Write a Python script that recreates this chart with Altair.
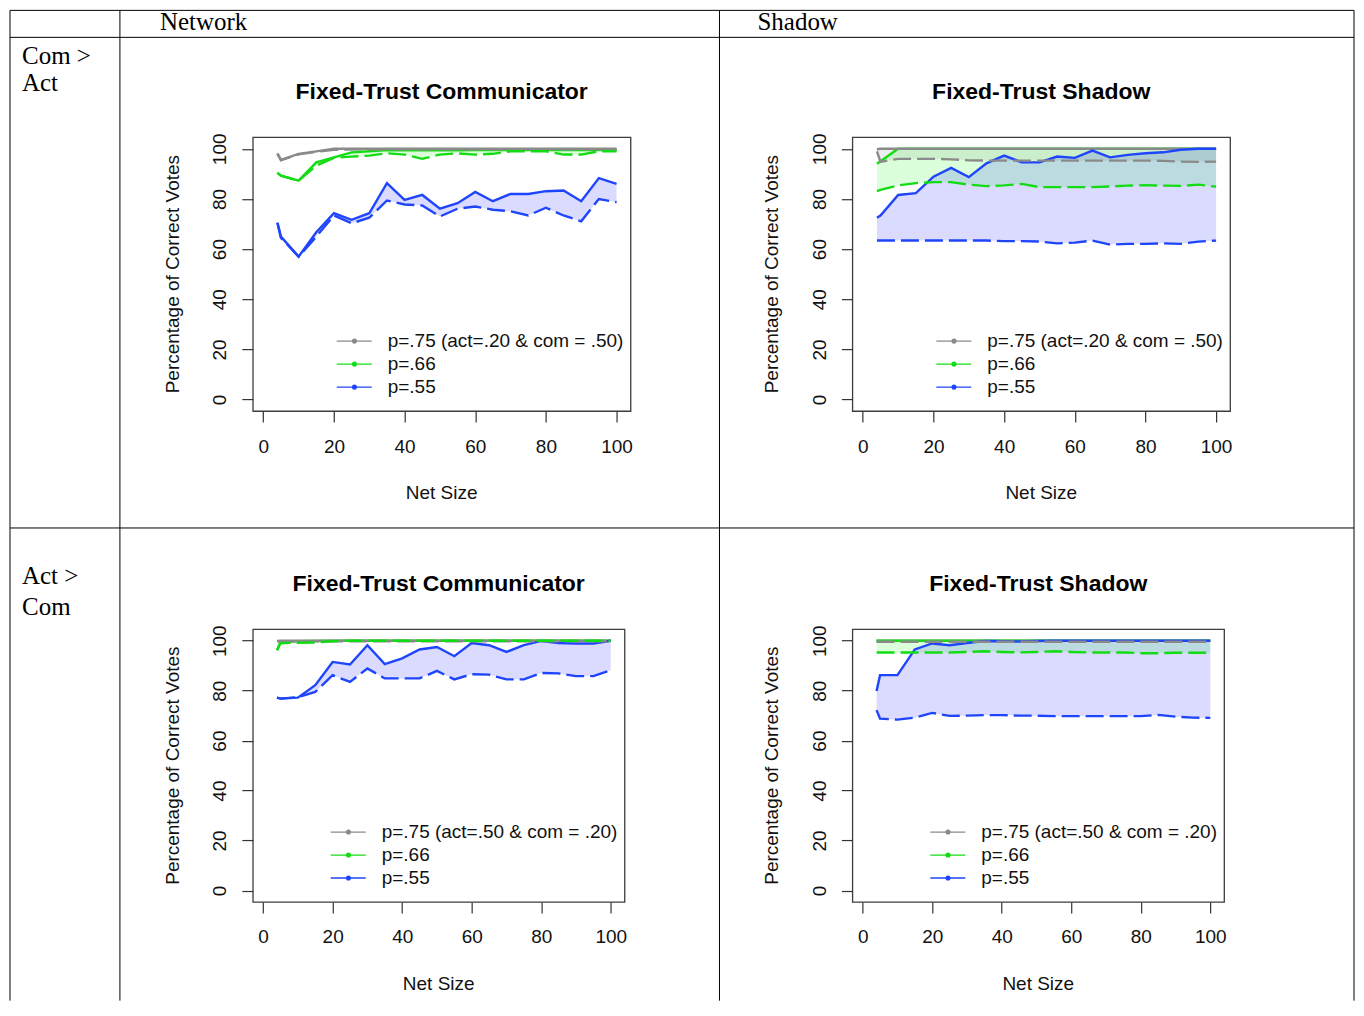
import altair as alt
import pandas as pd

# ---------------- data ----------------
NET_SIZE = [4, 5, 10, 15, 20, 25, 30, 35, 40, 45, 50, 55, 60, 65, 70, 75, 80, 85, 90, 95, 100]
X_TICKS = [0, 20, 40, 60, 80, 100]
Y_TICKS = [0, 20, 40, 60, 80, 100]

SERIES = ["gray", "green", "blue"]
LINE_COLORS = {"gray": "#8a8a8a", "green": "#14dc14", "blue": "#1f45fc"}
FILL_COLORS = ["#808080", "#00ff00", "#0000ff"]

# Panel 1: Com > Act, Network
p1_gray_solid = [98.2, 95.6, 98.0, 99.0, 100, 100, 100, 100, 100, 100, 100, 100, 100, 100, 100, 100, 100, 100, 100, 100, 100]
p1_gray_dashed = [98.0, 95.4, 97.8, 98.8, 99.6, 99.7, 99.8, 99.8, 99.8, 99.8, 99.8, 99.8, 99.8, 99.8, 99.8, 99.8, 99.8, 99.8, 99.8, 99.8, 99.8]
p1_green_solid = [90.4, 89.3, 87.3, 94.6, 96.6, 98.6, 99.0, 99.5, 99.4, 99.4, 99.5, 99.4, 99.5, 99.5, 99.5, 99.5, 99.5, 99.5, 99.5, 99.5, 99.5]
p1_green_dashed = [90.4, 89.3, 87.3, 93.3, 96.4, 96.9, 97.3, 98.2, 97.7, 96.0, 97.7, 98.2, 97.7, 98.0, 99.0, 99.0, 99.0, 97.7, 97.7, 99.0, 99.0]
p1_blue_solid = [70.5, 65.0, 57.0, 66.7, 74.3, 71.7, 74.3, 86.3, 79.6, 81.6, 76.1, 78.3, 82.8, 79.1, 82.0, 82.0, 83.1, 83.4, 79.1, 88.3, 86.0]
p1_blue_dashed = [70.5, 64.5, 57.0, 65.0, 73.4, 70.3, 72.5, 79.4, 77.8, 77.4, 73.0, 76.1, 77.0, 75.7, 75.1, 73.4, 76.5, 73.4, 71.1, 80.0, 78.7]

# Panel 2: Com > Act, Shadow
p2_gray_solid = [99.8, 100, 100, 100, 100, 100, 100, 100, 100, 100, 100, 100, 100, 100, 100, 100, 100, 100, 100, 100, 100]
p2_gray_dashed = [99.0, 94.8, 96.0, 96.0, 96.0, 95.8, 95.4, 95.3, 95.3, 95.3, 95.3, 95.3, 95.3, 95.3, 95.3, 95.3, 95.3, 95.2, 94.9, 94.8, 94.9]
p2_green_solid = [94.0, 95.0, 100, 100, 100, 100, 100, 100, 100, 100, 100, 100, 100, 100, 100, 100, 100, 100, 100, 100, 100]
p2_green_dashed = [83.1, 83.6, 85.4, 86.3, 86.7, 86.7, 85.7, 85.1, 85.4, 86.0, 84.7, 84.7, 84.7, 84.7, 85.0, 85.3, 85.5, 85.3, 85.2, 85.7, 84.9]
p2_blue_solid = [72.5, 73.4, 81.6, 82.3, 88.9, 92.4, 88.7, 94.2, 97.3, 94.6, 94.6, 96.9, 96.4, 99.3, 96.6, 97.6, 98.2, 98.6, 99.6, 100.0, 100.0]
p2_blue_dashed = [63.4, 63.4, 63.4, 63.4, 63.4, 63.4, 63.4, 63.4, 63.2, 63.2, 63.0, 62.3, 62.6, 63.4, 61.8, 62.1, 62.1, 62.3, 62.1, 63.0, 63.4]

# Panel 3: Act > Com, Network
p3_gray_solid = [99.9, 100, 100, 100, 100, 100, 100, 100, 100, 100, 100, 100, 100, 100, 100, 100, 100, 100, 100, 100, 100]
p3_gray_dashed = [99.8, 99.8, 99.8, 99.8, 99.8, 99.8, 99.8, 99.8, 99.8, 99.8, 99.8, 99.8, 99.8, 99.8, 99.8, 99.8, 99.8, 99.8, 99.8, 99.8, 99.8]
p3_green_solid = [96.2, 99.5, 99.8, 99.9, 100, 100, 100, 100, 100, 100, 100, 100, 100, 100, 100, 100, 100, 100, 100, 100, 100]
p3_green_dashed = [96.2, 99.0, 99.2, 99.3, 99.8, 100, 100, 100, 100, 100, 100, 100, 100, 100, 100, 100, 100, 100, 100, 100, 100]
p3_blue_solid = [77.2, 76.8, 77.2, 82.2, 91.5, 90.5, 98.2, 90.6, 92.9, 96.5, 97.5, 93.8, 99.1, 98.2, 95.5, 98.2, 99.9, 99.1, 98.9, 98.9, 100.0]
p3_blue_dashed = [77.2, 76.8, 77.4, 79.5, 86.2, 83.5, 88.9, 84.9, 84.9, 84.9, 87.9, 84.5, 86.6, 86.4, 84.5, 84.5, 87.1, 86.9, 85.8, 85.8, 88.2]

# Panel 4: Act > Com, Shadow
p4_gray_solid = [100, 100, 100, 100, 100, 100, 100, 100, 100, 100, 100, 100, 100, 100, 100, 100, 100, 100, 100, 100, 100]
p4_gray_dashed = [99.6, 99.6, 99.6, 99.6, 99.6, 99.6, 99.6, 99.6, 99.6, 99.6, 99.6, 99.6, 99.6, 99.6, 99.6, 99.6, 99.6, 99.6, 99.6, 99.6, 99.6]
p4_green_solid = [100, 100, 100, 100, 100, 100, 100, 100, 100, 100, 100, 100, 100, 100, 100, 100, 100, 100, 100, 100, 100]
p4_green_dashed = [95.3, 95.3, 95.3, 95.3, 95.3, 95.3, 95.5, 95.8, 95.5, 95.3, 95.5, 95.8, 95.5, 95.3, 95.3, 95.3, 95.0, 95.0, 95.2, 95.2, 95.2]
p4_blue_solid = [79.9, 86.2, 86.2, 96.5, 98.9, 98.2, 99.1, 99.9, 99.8, 99.7, 99.9, 100, 100, 100, 100, 100, 100, 100, 100, 100, 100]
p4_blue_dashed = [72.2, 68.8, 68.4, 69.2, 71.1, 69.9, 70.0, 70.2, 70.2, 70.0, 70.0, 69.8, 69.8, 69.8, 69.8, 69.8, 69.8, 70.3, 69.6, 69.2, 69.1]

TITLE_NET = "Fixed-Trust Communicator"
TITLE_SHADOW = "Fixed-Trust Shadow"
LEGEND_TOP = ["p=.75 (act=.20 & com = .50)", "p=.66", "p=.55"]
LEGEND_BOTTOM = ["p=.75 (act=.50 & com = .20)", "p=.66", "p=.55"]
COL_HEADERS = ["Network", "Shadow"]
ROW_HEADERS = [["Com >", "Act"], ["Act >", "Com"]]
X_TITLE = "Net Size"
Y_TITLE = "Percentage of Correct Votes"

# ---------------- layout constants ----------------
X_DOMAIN = [-2.96, 103.96]
Y_DOMAIN = [-4.6, 104.6]
W_TOP, H_TOP = 378, 274
W_BOT, H_BOT = 372, 273
SANS = "Liberation Sans"
SERIF = "Liberation Serif"
FS = 19

# on-page position of the panel-1 plot origin (used for the table decoration)
OX, OY = 253, 137


def txt(s, **kw):
    return alt.Chart(pd.DataFrame({"t": [s]})).mark_text(**kw)


def make_panel(series_data, title, legend_labels, W, H, solid_order, table=False):
    rows = []
    for s, (solid, dashed) in zip(SERIES, series_data):
        for xv, a, b in zip(NET_SIZE, solid, dashed):
            rows.append({"net": xv, "series": s, "solid": a, "dashed": b})
    df = pd.DataFrame(rows)

    xs = alt.Scale(domain=X_DOMAIN, nice=False, zero=False)
    ys = alt.Scale(domain=Y_DOMAIN, nice=False, zero=False)
    xax = alt.Axis(values=X_TICKS, title=None, labelAngle=0, labelBaseline="top",
                   labelAlign="center", labelPadding=15, labelFlush=False,
                   labelOverlap=False, format="d")
    yax = alt.Axis(values=Y_TICKS, title=None, labelAngle=270, labelAlign="center",
                   labelBaseline="alphabetic", labelPadding=16, labelFlush=False,
                   labelOverlap=False, format="d")
    xenc = alt.X("net:Q", scale=xs, axis=xax)
    fill = alt.Fill("series:N", scale=alt.Scale(domain=SERIES, range=FILL_COLORS), legend=None)

    base = alt.Chart(df)
    layers = [base.mark_area(fillOpacity=0.14, strokeWidth=0).encode(
        x=xenc, y=alt.Y("solid:Q", scale=ys, axis=yax), y2="dashed:Q", fill=fill)]

    for s in solid_order:
        layers.append(base.transform_filter(alt.datum.series == s).mark_line(
            strokeWidth=2.4, color=LINE_COLORS[s]).encode(
            x=xenc, y=alt.Y("solid:Q", scale=ys, axis=yax)))
    for s in SERIES:
        layers.append(base.transform_filter(alt.datum.series == s).mark_line(
            strokeWidth=2.4, strokeDash=[18, 6], color=LINE_COLORS[s]).encode(
            x=xenc, y=alt.Y("dashed:Q", scale=ys, axis=yax)))

    # legend (bottom-right, no box)
    for i, (lab, s) in enumerate(zip(legend_labels, SERIES)):
        col = LINE_COLORS[s]
        ly = H - 70 + 23 * i
        one = pd.DataFrame({"t": [lab]})
        layers.append(alt.Chart(one).mark_rule(color=col, strokeWidth=1.3).encode(
            x=alt.value(W - 294), x2=alt.value(W - 259), y=alt.value(ly)))
        layers.append(alt.Chart(one).mark_circle(color=col, size=26, opacity=1).encode(
            x=alt.value(W - 276.3), y=alt.value(ly)))
        layers.append(alt.Chart(one).mark_text(align="left", baseline="middle", font=SANS,
                                               fontSize=FS, color="#111111").encode(
            x=alt.value(W - 243), y=alt.value(ly), text="t:N"))

    # titles
    layers.append(txt(title, font=SANS, fontWeight="bold", fontSize=23, align="center",
                      baseline="alphabetic", color="#000000").encode(
        x=alt.value(W / 2), y=alt.value(-38), text="t:N"))
    layers.append(txt(X_TITLE, font=SANS, fontSize=FS, align="center", baseline="alphabetic",
                      color="#111111").encode(x=alt.value(W / 2), y=alt.value(H + 88), text="t:N"))
    layers.append(txt(Y_TITLE, font=SANS, fontSize=FS, align="center", baseline="alphabetic",
                      angle=270, color="#111111").encode(x=alt.value(-74), y=alt.value(H / 2), text="t:N"))

    if table:
        def px(v):
            return v - OX

        def py(v):
            return v - OY
        one = pd.DataFrame({"t": [""]})
        top, left, right, bottom = 10, 10, 1355, 1001
        for yy in [top, 37, 528]:
            layers.append(alt.Chart(one).mark_rule(color="#000000", strokeWidth=1).encode(
                x=alt.value(px(left)), x2=alt.value(px(right)), y=alt.value(py(yy))))
        for xx in [left, 120, 720, right]:
            layers.append(alt.Chart(one).mark_rule(color="#000000", strokeWidth=1).encode(
                x=alt.value(px(xx)), y=alt.value(py(top)), y2=alt.value(py(bottom))))
        heads = [(COL_HEADERS[0], 160, 30), (COL_HEADERS[1], 758, 30),
                 (ROW_HEADERS[0][0], 22, 63.5), (ROW_HEADERS[0][1], 22, 91),
                 (ROW_HEADERS[1][0], 22, 584), (ROW_HEADERS[1][1], 22, 615)]
        for s, xx, yy in heads:
            layers.append(txt(s, font=SERIF, fontSize=25, align="left", baseline="alphabetic",
                              color="#000000").encode(x=alt.value(px(xx)), y=alt.value(py(yy)), text="t:N"))

    return alt.layer(*layers).properties(width=W, height=H)


p1 = make_panel([(p1_gray_solid, p1_gray_dashed), (p1_green_solid, p1_green_dashed),
                 (p1_blue_solid, p1_blue_dashed)], TITLE_NET, LEGEND_TOP, W_TOP, H_TOP,
                ["green", "gray", "blue"], table=True)
p2 = make_panel([(p2_gray_solid, p2_gray_dashed), (p2_green_solid, p2_green_dashed),
                 (p2_blue_solid, p2_blue_dashed)], TITLE_SHADOW, LEGEND_TOP, W_TOP, H_TOP,
                ["green", "gray", "blue"])
p3 = make_panel([(p3_gray_solid, p3_gray_dashed), (p3_green_solid, p3_green_dashed),
                 (p3_blue_solid, p3_blue_dashed)], TITLE_NET, LEGEND_BOTTOM, W_BOT, H_BOT,
                ["green", "gray", "blue"])
p4 = make_panel([(p4_gray_solid, p4_gray_dashed), (p4_green_solid, p4_green_dashed),
                 (p4_blue_solid, p4_blue_dashed)], TITLE_SHADOW, LEGEND_BOTTOM, W_BOT, H_BOT,
                ["gray", "green", "blue"])

chart = alt.concat(p1, p2, p3, p4, columns=2, spacing={"row": 218.3, "column": 222},
                   bounds="flush").configure_view(
    stroke="#3c3c3c", strokeWidth=1.3
).configure_axis(
    domain=False, grid=False, ticks=True, tickSize=11, tickColor="#333333", tickWidth=1.2,
    labelFont=SANS, labelFontSize=FS, labelColor="#111111"
).properties(padding=0, background="white")

chart.save("out.html", embed_options={"renderer": "svg", "actions": False})
